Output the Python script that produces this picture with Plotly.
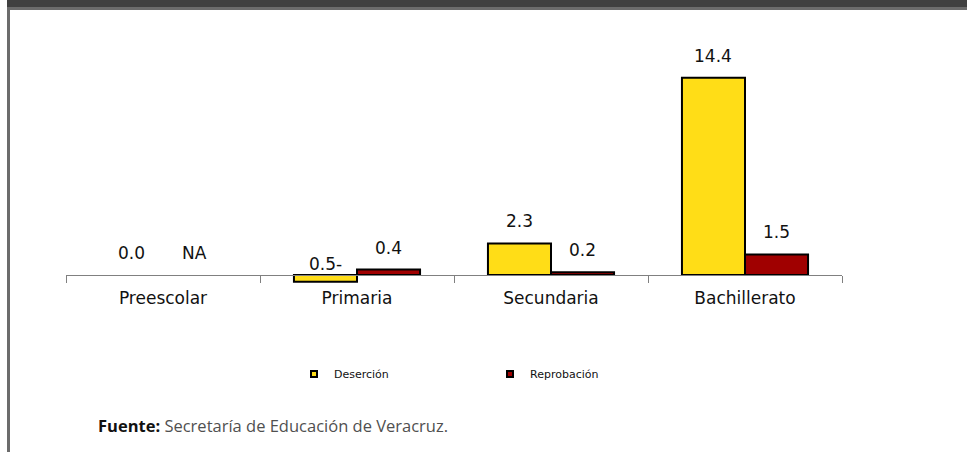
import plotly.graph_objects as go

categories = ["Preescolar", "Primaria", "Secundaria", "Bachillerato"]
desercion = [0.0, -0.5, 2.3, 14.4]
reprobacion = [None, 0.4, 0.2, 1.5]
desercion_labels = ["0.0", "0.5-", "2.3", "14.4"]
reprobacion_labels = ["NA", "0.4", "0.2", "1.5"]
series_names = ["Deserción", "Reprobación"]
source_label = "Fuente:"
source_text = "Secretaría de Educación de Veracruz."
header_unit = "(%)"

YELLOW = "#FFDD17"
RED = "#A00000"
W, H = 967, 452
ML, MR, MT, MB = 66, 125, 40, 162
PW = W - ML - MR
PX_PER_UNIT = 13.7
ZERO_PX = 275
plot_h = H - MT - MB
ymax = (ZERO_PX - MT) / PX_PER_UNIT
ymin = -(H - MB - ZERO_PX) / PX_PER_UNIT


def px_x(px):
    return (px - ML) / PW


def px_y(py):
    return (H - MB - py) / plot_h


fig = go.Figure()
for name, vals, col in [(series_names[0], desercion, YELLOW), (series_names[1], reprobacion, RED)]:
    fig.add_trace(go.Bar(
        x=categories, y=vals, name=name,
        marker=dict(color=col, line=dict(color="black",
                                         width=[0 if (v is None or v == 0) else 2 for v in vals])),
        showlegend=False, hoverinfo="x+y+name",
    ))
# legend entries (small squares)
for name, col in [(series_names[0], YELLOW), (series_names[1], RED)]:
    fig.add_trace(go.Scatter(
        x=[None], y=[None], mode="markers", name=name,
        marker=dict(symbol="square", size=6, color=col, line=dict(color="black", width=2)),
        showlegend=True,
    ))

annotations = []
half = 0.65 * PW / 4 / 4  # offset from category centre to bar centre in px
for vals, labels, dx in [(desercion, desercion_labels, -half), (reprobacion, reprobacion_labels, half)]:
    for c, v, lab in zip(categories, vals, labels):
        base = v if (v is not None and v > 0) else 0
        ys = 10 if (v is None or v >= 0) else -1
        annotations.append(dict(
            x=c, y=base, xref="x", yref="y", text=lab, showarrow=False,
            xshift=dx, yshift=ys, yanchor="bottom",
            font=dict(family="DejaVu Sans", size=17, color="#111111"),
        ))

# source line
annotations.append(dict(
    x=px_x(96), y=px_y(425), xref="paper", yref="paper", showarrow=False,
    text=f"<b>{source_label}</b> <span style='color:#505050'>{source_text}</span>",
    xanchor="left", yanchor="middle", font=dict(family="Open Sans", size=16.5, color="#111111"),
))
# header unit text (mostly cut by the top edge, as in the reference)
annotations.append(dict(
    x=px_x(770), y=px_y(3), xref="paper", yref="paper",
    text=f"<b>{header_unit}</b>", showarrow=False, yanchor="bottom", xanchor="center",
    font=dict(family="DejaVu Sans", size=16, color="white"),
))
fig.layout.annotations = annotations

shapes = [
    # dark header band
    dict(type="rect", xref="paper", yref="paper", x0=px_x(7), x1=px_x(W + 5),
         y0=px_y(7), y1=px_y(-5), fillcolor="#404040", line=dict(width=0), layer="above"),
    # gray header line
    dict(type="rect", xref="paper", yref="paper", x0=px_x(7), x1=px_x(W + 5),
         y0=px_y(10), y1=px_y(7), fillcolor="#6c6c6c", line=dict(width=0), layer="above"),
    # left gray border
    dict(type="rect", xref="paper", yref="paper", x0=px_x(7), x1=px_x(10),
         y0=px_y(H + 5), y1=px_y(7), fillcolor="#6c6c6c", line=dict(width=0), layer="above"),
]
fig.layout.shapes = shapes

fig.update_layout(
    width=W, height=H, margin=dict(l=ML, r=MR, t=MT, b=MB),
    paper_bgcolor="white", plot_bgcolor="white",
    barmode="group", bargap=0.35, bargroupgap=0,
    xaxis=dict(
        type="category", range=[-0.5, 3.5], anchor="free", position=px_y(ZERO_PX),
        showline=True, linecolor="#808080", linewidth=1, ticks="outside", tickson="boundaries",
        ticklen=7, tickcolor="#808080", tickwidth=1, showgrid=False, zeroline=False,
        ticklabelstandoff=8,
        tickfont=dict(family="DejaVu Sans", size=17, color="#111111"), fixedrange=True,
    ),
    yaxis=dict(range=[ymin, ymax], visible=False, showgrid=False, zeroline=False, fixedrange=True),
    legend=dict(
        orientation="h", x=px_x(294), y=px_y(374), xanchor="left", yanchor="middle",
        font=dict(family="DejaVu Sans", size=11, color="#111111"), entrywidth=151, entrywidthmode="pixels",
        itemwidth=30, bgcolor="rgba(0,0,0,0)", tracegroupgap=0,
    ),
    showlegend=True,
)

fig.write_html("out.html", post_script="document.body.style.margin='0';",
               config={"displayModeBar": False})
